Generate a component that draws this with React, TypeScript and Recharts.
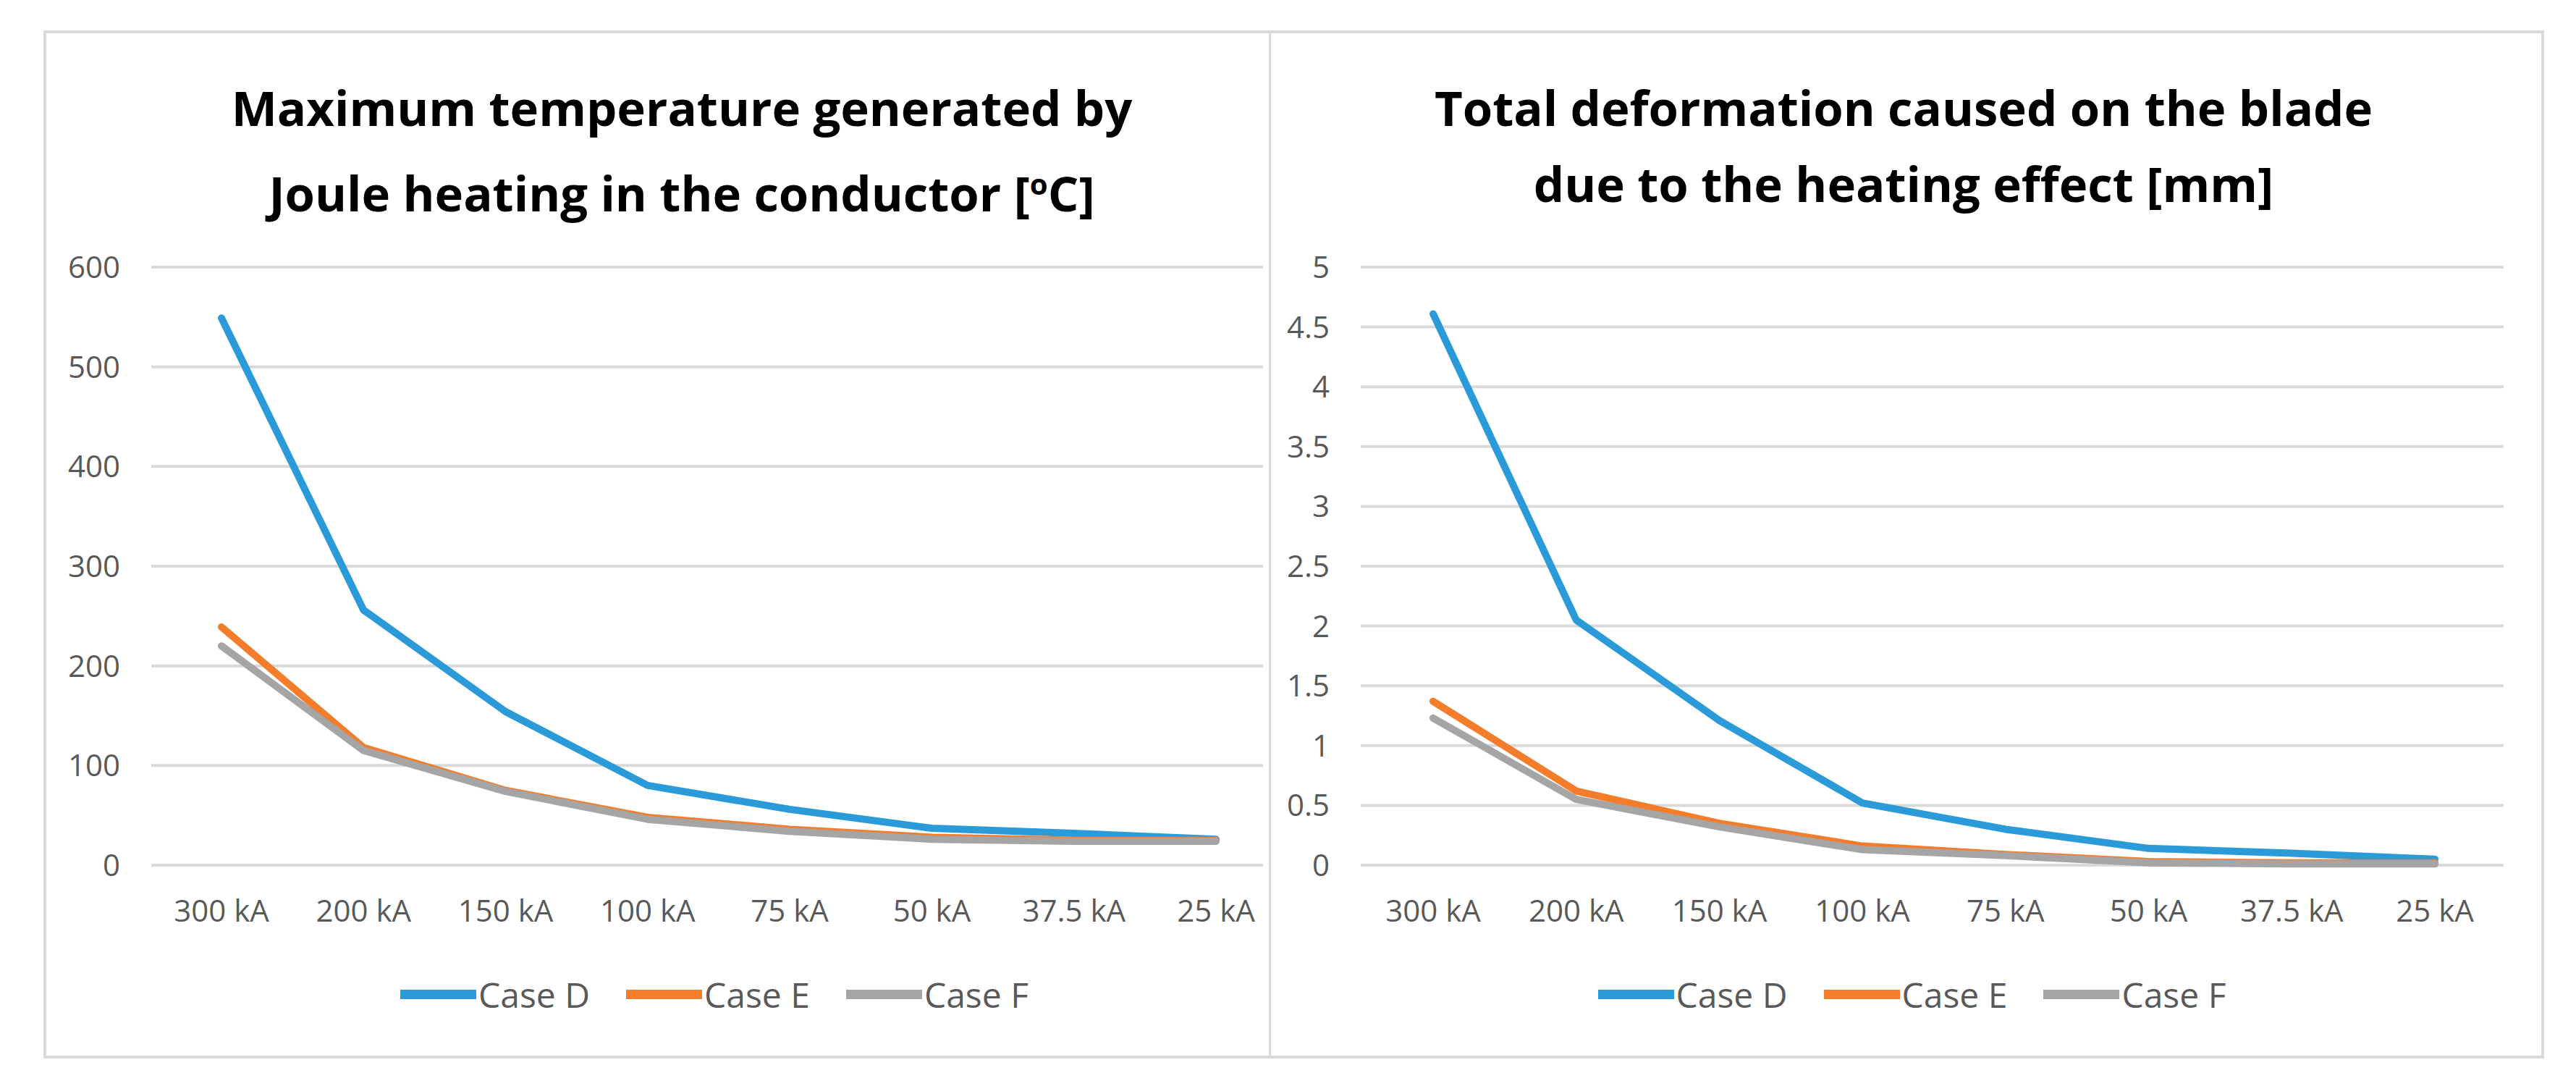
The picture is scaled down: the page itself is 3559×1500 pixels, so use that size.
import { LineChart, Line, XAxis, YAxis, CartesianGrid } from 'recharts';

const categories = ['300 kA', '200 kA', '150 kA', '100 kA', '75 kA', '50 kA', '37.5 kA', '25 kA'];

const tempCaseD = [549, 256, 154, 80, 56, 37, 32, 26];
const tempCaseE = [239, 118, 75, 48, 36, 28, 25, 25];
const tempCaseF = [220, 115, 74, 46, 34, 26, 24, 24];

const defCaseD = [4.61, 2.05, 1.21, 0.52, 0.3, 0.14, 0.1, 0.05];
const defCaseE = [1.37, 0.62, 0.35, 0.16, 0.09, 0.03, 0.02, 0.02];
const defCaseF = [1.23, 0.55, 0.32, 0.13, 0.08, 0.02, 0.01, 0.01];

const tempTicks = [0, 100, 200, 300, 400, 500, 600];
const defTicks = [0, 0.5, 1, 1.5, 2, 2.5, 3, 3.5, 4, 4.5, 5];

const seriesNames = ['Case D', 'Case E', 'Case F'];
const colors = ['#2A9BD8', '#F47D2C', '#A5A5A5'];

const FONT = "'Open Sans', 'Liberation Sans', sans-serif";
const GRID = '#D9D9D9';
const TEXT = '#595959';

function buildRows(d: number[], e: number[], f: number[]) {
  return categories.map((name, i) => ({ name, d: d[i], e: e[i], f: f[i] }));
}

interface PanelProps {
  left: number;
  width: number;
  titleLines: React.ReactNode[];
  titleCenter: number;
  rows: { name: string; d: number; e: number; f: number }[];
  ticks: number[];
  domain: [number, number];
  marginLeft: number;
  marginRight: number;
  padLeft: number;
  padRight: number;
  legendShift: number;
}

function Panel(p: PanelProps) {
  const height = 1420;
  return (
    <div style={{ position: 'absolute', left: p.left, top: 42, width: p.width, height }}>
      <div
        style={{
          position: 'absolute',
          left: p.titleCenter - p.left - 900,
          top: 54,
          width: 1800,
          textAlign: 'center',
          fontFamily: FONT,
          fontWeight: 700,
          fontSize: 67,
          lineHeight: '105px',
          color: '#000',
        }}
      >
        {p.titleLines.map((t, i) => (
          <div key={i}>{t}</div>
        ))}
      </div>
      <LineChart
        width={p.width}
        height={height}
        data={p.rows}
        margin={{ top: 327, left: p.marginLeft, right: p.marginRight, bottom: 167 }}
      >
        <CartesianGrid vertical={false} stroke={GRID} strokeWidth={4} />
        <XAxis
          dataKey="name"
          axisLine={false}
          tickLine={false}
          tickSize={0}
          tickMargin={48}
          height={100}
          interval={0}
          padding={{ left: p.padLeft, right: p.padRight }}
          tick={{ fill: TEXT, fontSize: 42, fontFamily: FONT }}
        />
        <YAxis
          domain={p.domain}
          ticks={p.ticks}
          interval={0}
          axisLine={false}
          tickLine={false}
          tickSize={0}
          tickMargin={43}
          width={100}
          tick={{ fill: TEXT, fontSize: 42, fontFamily: FONT }}
        />
        {(['d', 'e', 'f'] as const).map((key, i) => (
          <Line
            key={key}
            type="linear"
            dataKey={key}
            name={seriesNames[i]}
            stroke={colors[i]}
            strokeWidth={10}
            strokeLinejoin="round"
            strokeLinecap="round"
            dot={false}
            activeDot={false}
            isAnimationActive={false}
          />
        ))}
      </LineChart>
      <div
        style={{
          position: 'absolute',
          left: p.legendShift,
          top: 1301,
          width: p.width,
          height: 60,
          display: 'flex',
          justifyContent: 'center',
          alignItems: 'center',
          fontFamily: FONT,
          fontSize: 48,
          color: TEXT,
        }}
      >
        {seriesNames.map((n, i) => (
          <div key={n} style={{ display: 'flex', alignItems: 'center', marginLeft: i === 0 ? 0 : 50 }}>
            <div style={{ width: 105, height: 13, background: colors[i], marginRight: 3 }} />
            <span>{n}</span>
          </div>
        ))}
      </div>
    </div>
  );
}

export default function App() {
  return (
    <div style={{ position: 'absolute', left: 0, top: 0, width: 3559, height: 1500, background: '#fff' }}>
      <div
        style={{
          position: 'absolute',
          left: 60,
          top: 42,
          width: 3455,
          height: 1420,
          boxSizing: 'border-box',
          border: `4px solid ${GRID}`,
        }}
      />
      <div style={{ position: 'absolute', left: 1753, top: 42, width: 3, height: 1420, background: GRID }} />
      <Panel
        left={60}
        width={1694}
        titleLines={[
          'Maximum temperature generated by',
          <span>
            Joule heating in the conductor [<sup style={{ fontSize: '0.6em' }}>o</sup>C]
          </span>,
        ]}
        titleCenter={942}
        rows={buildRows(tempCaseD, tempCaseE, tempCaseF)}
        ticks={tempTicks}
        domain={[0, 600]}
        marginLeft={49}
        marginRight={9}
        padLeft={97}
        padRight={65}
        legendShift={80}
      />
      <Panel
        left={1756}
        width={1759}
        titleLines={['Total deformation caused on the blade', 'due to the heating effect [mm]']}
        titleCenter={2630}
        rows={buildRows(defCaseD, defCaseE, defCaseF)}
        ticks={defTicks}
        domain={[0, 5]}
        marginLeft={24}
        marginRight={56}
        padLeft={100}
        padRight={95}
        legendShift={6}
      />
    </div>
  );
}
